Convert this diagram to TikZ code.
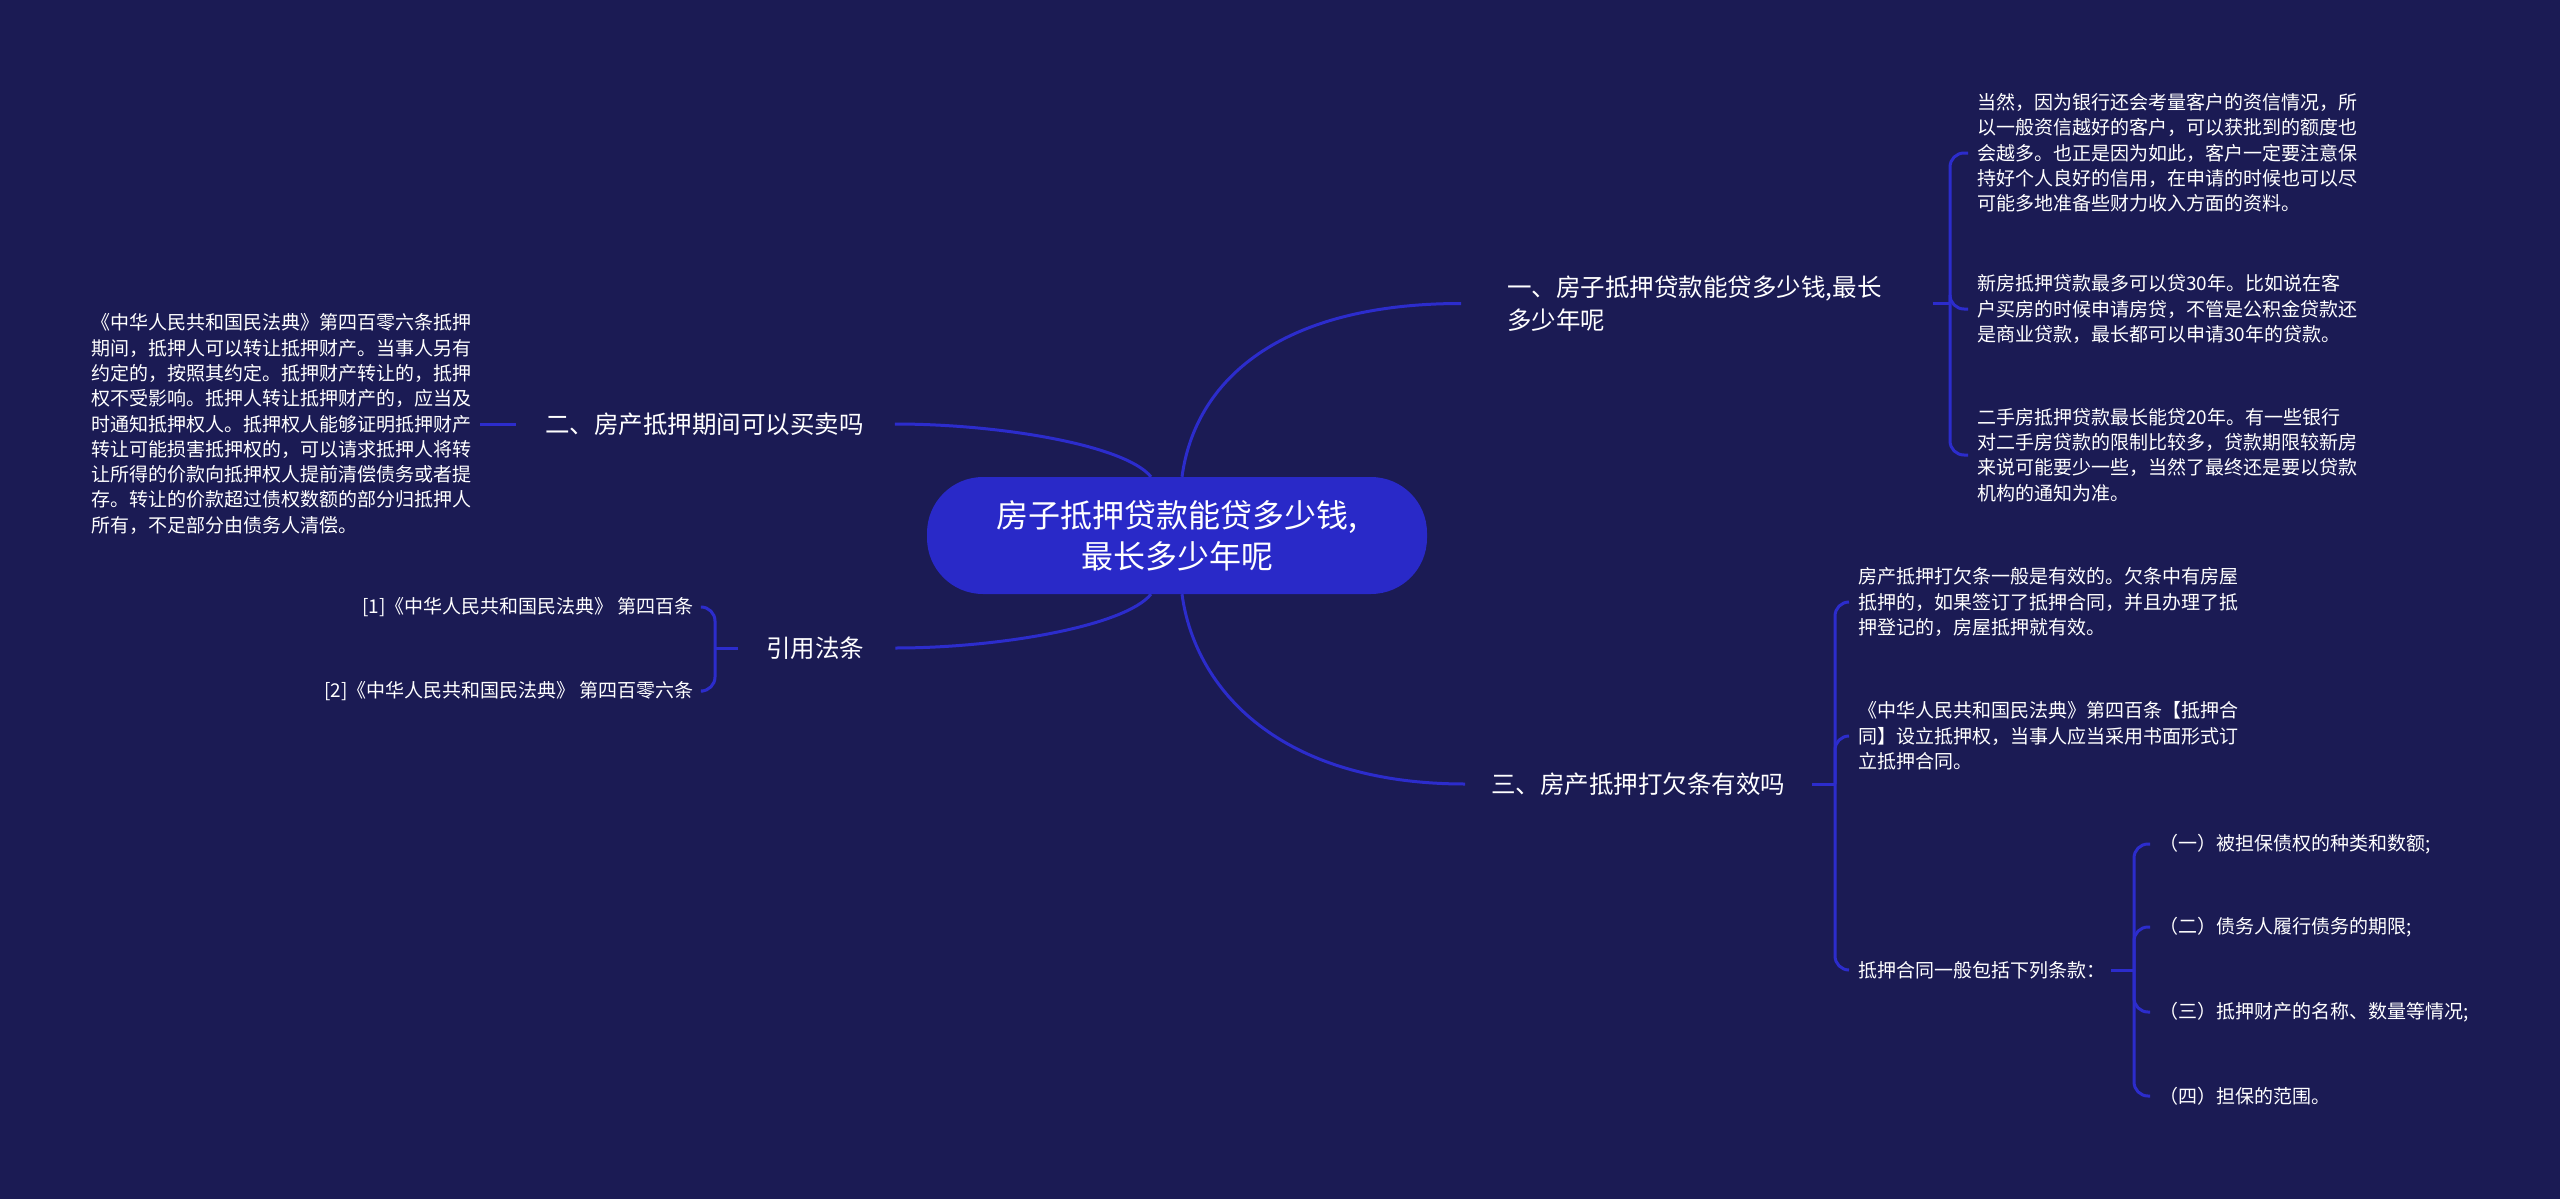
\documentclass[tikz,border=0pt]{standalone}
\usepackage{fontspec}
\setmainfont{Noto Sans CJK SC}
\definecolor{bgnavy}{RGB}{27,27,84}
\definecolor{rootblue}{RGB}{41,41,200}
\definecolor{lineblue}{RGB}{44,44,204}
\tikzset{
  conn/.style={draw=lineblue, line width=3pt},
  brk/.style={draw=lineblue, line width=3pt, rounded corners=14pt},
  leaf/.style={text=white, font=\fontsize{19}{25.3}\selectfont, align=left, inner sep=0pt},
  branch/.style={text=white, font=\fontsize{24.5}{33}\selectfont, align=left, inner sep=0pt},
  rootnode/.style={fill=rootblue, rounded corners=56pt, minimum width=500pt, minimum height=117pt,
    text=white, font=\fontsize{32}{41}\selectfont, align=center, inner sep=0pt},
}
\begin{document}
\begin{tikzpicture}[x=1pt,y=-1pt]
\fill[bgnavy] (0,0) rectangle (2560,1199);
\useasboundingbox (0,0) rectangle (2560,1199);

% root
\node[rootnode] (root) at (1177,535.5) {房子抵押贷款能贷多少钱,\\最长多少年呢};

% branches
\node[branch, anchor=west] (b1) at (1507,303.5) {一、房子抵押贷款能贷多少钱,最长\\多少年呢};
\node[branch, anchor=west] (b2) at (545,424) {二、房产抵押期间可以买卖吗};
\node[branch, anchor=west] (b3) at (1491,784) {三、房产抵押打欠条有效吗};
\node[branch, anchor=west] (b4) at (766,648) {引用法条};

% leaves of branch 1
\node[leaf, anchor=west] (l11) at (1977,153) {当然，因为银行还会考量客户的资信情况，所\\以一般资信越好的客户，可以获批到的额度也\\会越多。也正是因为如此，客户一定要注意保\\持好个人良好的信用，在申请的时候也可以尽\\可能多地准备些财力收入方面的资料。};
\node[leaf, anchor=west] (l12) at (1977,309) {新房抵押贷款最多可以贷30年。比如说在客\\户买房的时候申请房贷，不管是公积金贷款还\\是商业贷款，最长都可以申请30年的贷款。};
\node[leaf, anchor=west] (l13) at (1977,455) {二手房抵押贷款最长能贷20年。有一些银行\\对二手房贷款的限制比较多，贷款期限较新房\\来说可能要少一些，当然了最终还是要以贷款\\机构的通知为准。};

% leaf of branch 2
\node[leaf, anchor=west] (l21) at (91,424) {《中华人民共和国民法典》第四百零六条抵押\\期间，抵押人可以转让抵押财产。当事人另有\\约定的，按照其约定。抵押财产转让的，抵押\\权不受影响。抵押人转让抵押财产的，应当及\\时通知抵押权人。抵押权人能够证明抵押财产\\转让可能损害抵押权的，可以请求抵押人将转\\让所得的价款向抵押权人提前清偿债务或者提\\存。转让的价款超过债权数额的部分归抵押人\\所有，不足部分由债务人清偿。};

% leaves of branch 4
\node[leaf, anchor=east] (l41) at (694,607) {[1]《中华人民共和国民法典》 第四百条};
\node[leaf, anchor=east] (l42) at (694,691) {[2]《中华人民共和国民法典》 第四百零六条};

% leaves of branch 3
\node[leaf, anchor=west] (l31) at (1858,602) {房产抵押打欠条一般是有效的。欠条中有房屋\\抵押的，如果签订了抵押合同，并且办理了抵\\押登记的，房屋抵押就有效。};
\node[leaf, anchor=west] (l32) at (1858,736) {《中华人民共和国民法典》第四百条【抵押合\\同】设立抵押权，当事人应当采用书面形式订\\立抵押合同。};
\node[leaf, anchor=west] (l33) at (1858,970) {抵押合同一般包括下列条款：};

% sub-leaves
\node[leaf, anchor=west] (s1) at (2159,844) {（一）被担保债权的种类和数额;};
\node[leaf, anchor=west] (s2) at (2159,927) {（二）债务人履行债务的期限;};
\node[leaf, anchor=west] (s3) at (2159,1012) {（三）抵押财产的名称、数量等情况;};
\node[leaf, anchor=west] (s4) at (2159,1096) {（四）担保的范围。};

% root to branches
\draw[conn] ([xshift=5pt]root.north) .. controls (1195,380) and (1280,303.5) .. ([xshift=-46pt]b1.west);
\draw[conn] ([xshift=-26pt]root.north) .. controls (1125,445) and (1000,424) .. ([xshift=31pt]b2.east);
\draw[conn] ([xshift=-26pt]root.south) .. controls (1125,626) and (1000,648) .. ([xshift=31pt]b4.east);
\draw[conn] ([xshift=5pt]root.south) .. controls (1195,690) and (1280,784) .. ([xshift=-26pt]b3.west);

% branch 1 bracket
\coordinate (j1) at (1950,303.5);
\draw[conn] ([xshift=51pt]b1.east) -- (j1);
\draw[brk] (j1) |- ([xshift=-9pt]l11.west);
\draw[brk] (j1) |- ([xshift=-9pt]l12.west);
\draw[brk] (j1) |- ([xshift=-9pt]l13.west);

% branch 2 link
\draw[conn] ([xshift=-29pt]b2.west) -- ([xshift=9pt]l21.east);

% branch 4 bracket
\coordinate (j4) at (715,648);
\draw[conn] ([xshift=-28pt]b4.west) -- (j4);
\draw[brk] (j4) |- ([xshift=9pt]l41.east);
\draw[brk] (j4) |- ([xshift=9pt]l42.east);

% branch 3 bracket
\coordinate (j3) at (1835,784);
\draw[conn] ([xshift=27pt]b3.east) -- (j3);
\draw[brk] (j3) |- ([xshift=-9pt]l31.west);
\draw[brk] (j3) |- ([xshift=-9pt]l32.west);
\draw[brk] (j3) |- ([xshift=-9pt]l33.west);

% sub bracket
\coordinate (j5) at (2134,970);
\draw[conn] ([xshift=6pt]l33.east) -- (j5);
\draw[brk] (j5) |- ([xshift=-9pt]s1.west);
\draw[brk] (j5) |- ([xshift=-9pt]s2.west);
\draw[brk] (j5) |- ([xshift=-9pt]s3.west);
\draw[brk] (j5) |- ([xshift=-9pt]s4.west);
\end{tikzpicture}
\end{document}
